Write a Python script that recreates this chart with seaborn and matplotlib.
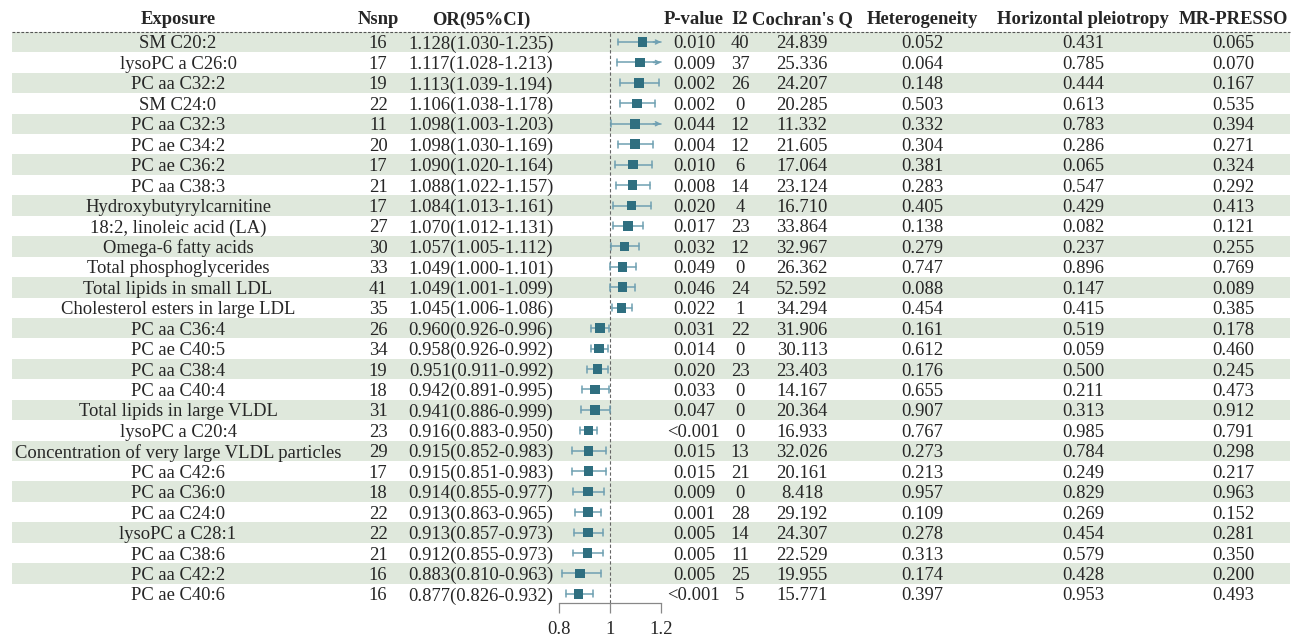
import numpy as np
import pandas as pd
import matplotlib
matplotlib.use('Agg')
import matplotlib.pyplot as plt
import seaborn as sns

sns.set_theme(style='white')
plt.rcParams['font.family'] = ['Liberation Serif', 'DejaVu Serif']

exposures = ['SM C20:2', 'lysoPC a C26:0', 'PC aa C32:2', 'SM C24:0', 'PC aa C32:3',
             'PC ae C34:2', 'PC ae C36:2', 'PC aa C38:3', 'Hydroxybutyrylcarnitine',
             '18:2, linoleic acid (LA)', 'Omega-6 fatty acids', 'Total phosphoglycerides',
             'Total lipids in small LDL', 'Cholesterol esters in large LDL', 'PC aa C36:4',
             'PC ae C40:5', 'PC aa C38:4', 'PC aa C40:4', 'Total lipids in large VLDL',
             'lysoPC a C20:4', 'Concentration of very large VLDL particles', 'PC aa C42:6',
             'PC aa C36:0', 'PC aa C24:0', 'lysoPC a C28:1', 'PC aa C38:6', 'PC aa C42:2',
             'PC ae C40:6']
nsnp = [16, 17, 19, 22, 11, 20, 17, 21, 17, 27, 30, 33, 41, 35, 26, 34, 19, 18, 31, 23,
        29, 17, 18, 22, 22, 21, 16, 16]
or_est = [1.128, 1.117, 1.113, 1.106, 1.098, 1.098, 1.090, 1.088, 1.084, 1.070, 1.057,
          1.049, 1.049, 1.045, 0.960, 0.958, 0.951, 0.942, 0.941, 0.916, 0.915, 0.915,
          0.914, 0.913, 0.913, 0.912, 0.883, 0.877]
ci_low = [1.030, 1.028, 1.039, 1.038, 1.003, 1.030, 1.020, 1.022, 1.013, 1.012, 1.005,
          1.000, 1.001, 1.006, 0.926, 0.926, 0.911, 0.891, 0.886, 0.883, 0.852, 0.851,
          0.855, 0.863, 0.857, 0.855, 0.810, 0.826]
ci_high = [1.235, 1.213, 1.194, 1.178, 1.203, 1.169, 1.164, 1.157, 1.161, 1.131, 1.112,
           1.101, 1.099, 1.086, 0.996, 0.992, 0.992, 0.995, 0.999, 0.950, 0.983, 0.983,
           0.977, 0.965, 0.973, 0.973, 0.963, 0.932]
p_value = ['0.010', '0.009', '0.002', '0.002', '0.044', '0.004', '0.010', '0.008', '0.020',
           '0.017', '0.032', '0.049', '0.046', '0.022', '0.031', '0.014', '0.020', '0.033',
           '0.047', '<0.001', '0.015', '0.015', '0.009', '0.001', '0.005', '0.005', '0.005',
           '<0.001']
i2 = [40, 37, 26, 0, 12, 12, 6, 14, 4, 23, 12, 0, 24, 1, 22, 0, 23, 0, 0, 0, 13, 21, 0,
      28, 14, 11, 25, 5]
cochran_q = [24.839, 25.336, 24.207, 20.285, 11.332, 21.605, 17.064, 23.124, 16.710,
             33.864, 32.967, 26.362, 52.592, 34.294, 31.906, 30.113, 23.403, 14.167,
             20.364, 16.933, 32.026, 20.161, 8.418, 29.192, 24.307, 22.529, 19.955, 15.771]
heterogeneity = [0.052, 0.064, 0.148, 0.503, 0.332, 0.304, 0.381, 0.283, 0.405, 0.138,
                 0.279, 0.747, 0.088, 0.454, 0.161, 0.612, 0.176, 0.655, 0.907, 0.767,
                 0.273, 0.213, 0.957, 0.109, 0.278, 0.313, 0.174, 0.397]
pleiotropy = [0.431, 0.785, 0.444, 0.613, 0.783, 0.286, 0.065, 0.547, 0.429, 0.082,
              0.237, 0.896, 0.147, 0.415, 0.519, 0.059, 0.500, 0.211, 0.313, 0.985,
              0.784, 0.249, 0.829, 0.269, 0.454, 0.579, 0.428, 0.953]
mr_presso = [0.065, 0.070, 0.167, 0.535, 0.394, 0.271, 0.324, 0.292, 0.413, 0.121, 0.255,
             0.769, 0.089, 0.385, 0.178, 0.460, 0.245, 0.473, 0.912, 0.791, 0.298, 0.217,
             0.963, 0.152, 0.281, 0.350, 0.200, 0.493]
x_ticks = [0.8, 1, 1.2]
x_ticklabels = ['0.8', '1', '1.2']

df = pd.DataFrame({'Exposure': exposures, 'OR': or_est, 'lo': ci_low, 'hi': ci_high})
df['row'] = np.arange(len(df))
df['OR_text'] = [f'{o:.3f}({l:.3f}-{h:.3f})' for o, l, h in zip(or_est, ci_low, ci_high)]

# ---- layout (pixels of a 1295x637 canvas) ----
W, H = 1295, 637
n = len(df)
row0, dy = 42.0, 20.44
header_y = 18
fs = 13.4
shade = '#dfe8dc'
sq_col = '#2f6f80'
ci_col = '#6fa0b2'

fig = plt.figure(figsize=(W / 100, H / 100), dpi=100)
ax = fig.add_axes([0, 0, 1, 1])
ax.set_xlim(0, W)
ax.set_ylim(H, 0)
ax.axis('off')

# alternating row shading
for i in range(n):
    if i % 2 == 0:
        yc = row0 + i * dy
        ax.fill_between([12, 1290], yc - dy / 2, yc + dy / 2, color=shade, lw=0, zorder=0)
# dashed rule under header
ax.plot([12, 1290], [31.5, 31.5], ls=(0, (2.5, 1.5)), color='#555555', lw=0.8)

columns = [
    ('Exposure', 178, exposures),
    ('Nsnp', 378, [str(v) for v in nsnp]),
    ('OR(95%CI)', 481, list(df['OR_text'])),
    ('P-value', 694, p_value),
    ('I2', 740, [str(v) for v in i2]),
    ("Cochran's Q", 802, [f'{v:.3f}' for v in cochran_q]),
    ('Heterogeneity', 922, [f'{v:.3f}' for v in heterogeneity]),
    ('Horizontal pleiotropy', 1083, [f'{v:.3f}' for v in pleiotropy]),
    ('MR-PRESSO', 1233, [f'{v:.3f}' for v in mr_presso]),
]
for head, xc, vals in columns:
    ax.text(xc, header_y, head, ha='center', va='center_baseline', fontsize=fs,
            fontweight='bold')
    for i, v in enumerate(vals):
        ax.text(xc, row0 + i * dy, v, ha='center', va='center_baseline', fontsize=fs)

# ---- forest panel ----
px_per_unit = (661 - 559) / 0.4
x_lo = 0.8 - 5 / px_per_unit
x_hi = 1.2 + 5 / px_per_unit
left_px = 559 - 5
right_px = 661 + 5
top_px, bot_px = 31.5, 603
fax = fig.add_axes([left_px / W, 1 - bot_px / H, (right_px - left_px) / W, (bot_px - top_px) / H])
fax.patch.set_alpha(0)
fax.set_xlim(x_lo, x_hi)
fax.set_ylim((bot_px - row0) / dy, (top_px - row0) / dy)
fax.axvline(1, ls=(0, (3, 2)), color='#666666', lw=0.8, zorder=1)

for _, r in df.iterrows():
    lo = max(r['lo'], 0.8)
    hi = min(r['hi'], 1.2)
    fax.plot([lo, hi], [r['row'], r['row']], color=ci_col, lw=1.1, zorder=2)
    if r['hi'] > 1.2:
        fax.annotate('', xy=(1.2, r['row']), xytext=(1.17, r['row']),
                     arrowprops=dict(arrowstyle='->', color=ci_col, lw=1.1,
                                     mutation_scale=7, shrinkA=0, shrinkB=0))
    else:
        fax.plot([hi, hi], [r['row'] - 0.17, r['row'] + 0.17], color=ci_col, lw=1.1, zorder=2)
    if r['lo'] < 0.8:
        fax.annotate('', xy=(0.8, r['row']), xytext=(0.83, r['row']),
                     arrowprops=dict(arrowstyle='->', color=ci_col, lw=1.1,
                                     mutation_scale=7, shrinkA=0, shrinkB=0))
    else:
        fax.plot([lo, lo], [r['row'] - 0.17, r['row'] + 0.17], color=ci_col, lw=1.1, zorder=2)

sns.scatterplot(data=df, x='OR', y='row', marker='s', s=48, color=sq_col,
                edgecolor='none', ax=fax, zorder=3, legend=False)

fax.set_xlabel('')
fax.set_ylabel('')
fax.set_yticks([])
for side in ['top', 'right', 'left']:
    fax.spines[side].set_visible(False)
fax.spines['bottom'].set_color('#888888')
fax.spines['bottom'].set_linewidth(0.9)
fax.spines['bottom'].set_bounds(0.8, 1.2)
fax.set_xticks(x_ticks)
fax.set_xticklabels(x_ticklabels, fontsize=fs)
fax.tick_params(axis='x', direction='out', length=7, width=0.9, color='#888888', pad=6,
                bottom=True)

fig.savefig('out.png', dpi=100)
